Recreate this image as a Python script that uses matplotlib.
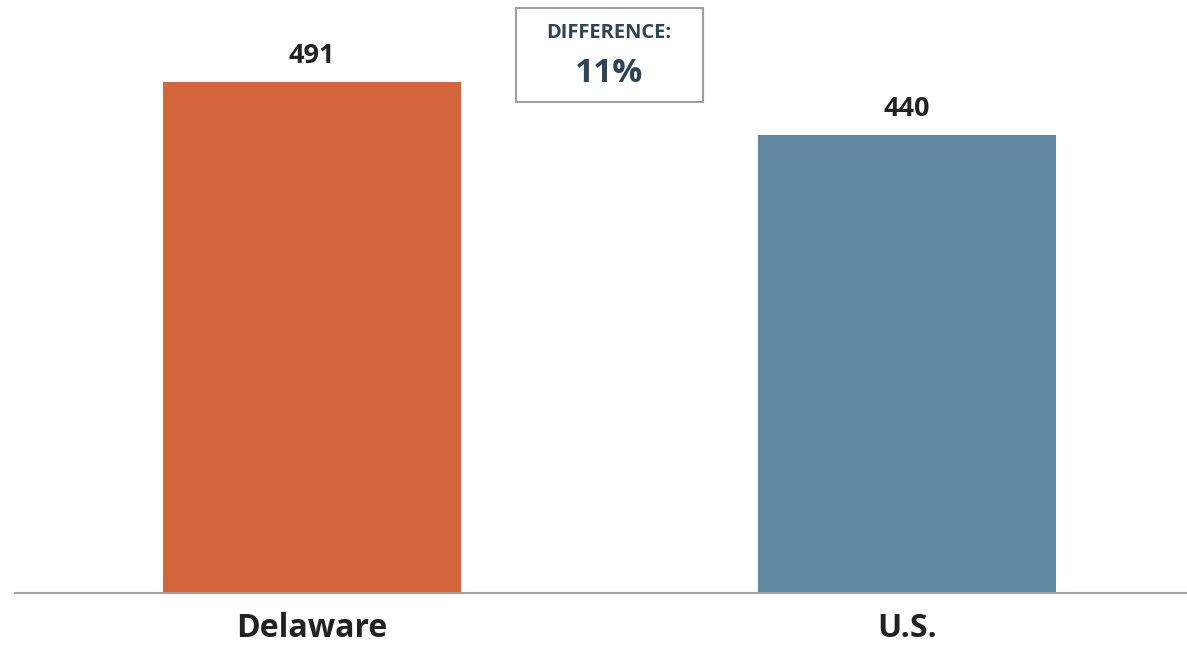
import matplotlib
matplotlib.use("Agg")
import matplotlib.pyplot as plt
from matplotlib.patches import Rectangle

# values
regions = ["Delaware", "U.S."]
values = [491, 440]
colors = ["#D4643B", "#5F87A1"]
diff_label = "DIFFERENCE:"
diff_value = "11%"

plt.rcParams["font.family"] = ["Open Sans", "DejaVu Sans"]

fig = plt.figure(figsize=(11.87, 6.45), dpi=100)
ax = fig.add_axes([15 / 1187, 52 / 645, 1172 / 1187, 593 / 645])

x = list(range(len(regions)))
bars = ax.bar(x, values, width=0.5, color=colors)
ax.set_xlim(-0.499, 1.471)
ax.set_ylim(0, 569.8)

for xi, v in zip(x, values):
    ax.text(xi, v + 18, str(v), ha="center", va="baseline",
            fontsize=19.5, fontweight="bold", color="#222222")

ax.set_xticks(x)
ax.set_xticklabels(regions, fontsize=23, fontweight="bold", color="#222222")
ax.tick_params(axis="x", length=0, pad=14)
ax.set_yticks([])
for s in ["top", "right", "left"]:
    ax.spines[s].set_visible(False)
ax.spines["bottom"].set_color("#A0A0A0")
ax.spines["bottom"].set_linewidth(1.5)

# difference box (figure pixel coords -> fraction)
box = Rectangle((516 / 1187, 1 - 102 / 645), 187 / 1187, 94 / 645,
                transform=fig.transFigure, facecolor="white",
                edgecolor="#A0A0A0", linewidth=1.5)
fig.add_artist(box)
fig.text(609 / 1187, 1 - 33 / 645, diff_label, ha="center", va="center",
         fontsize=14.5, fontweight="bold", color="#2E4355")
fig.text(609 / 1187, 1 - 73 / 645, diff_value, ha="center", va="center",
         fontsize=24, fontweight="bold", color="#2E4355")

fig.savefig("out.png", dpi=100)
